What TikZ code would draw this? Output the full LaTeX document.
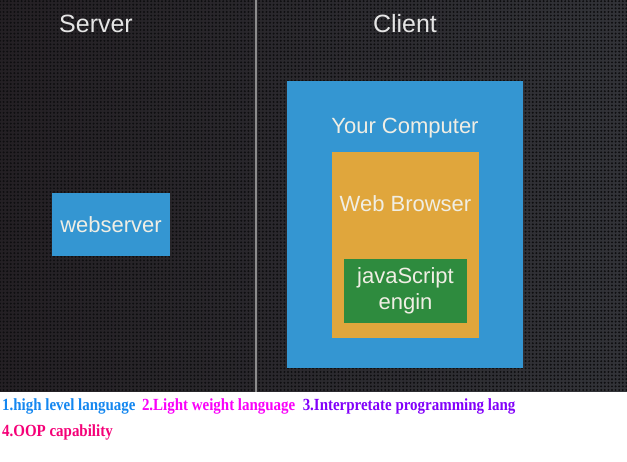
\documentclass[tikz,border=0pt]{standalone}
\usepackage{fontspec}
\setmainfont{Liberation Serif}
\setsansfont{Liberation Sans}
\newfontfamily\itemfont[FakeStretch=0.88]{Liberation Serif}
\usepackage{xcolor}
\usetikzlibrary{positioning, math, patterns.meta}
\definecolor{mydark}{RGB}{36,32,36}
\definecolor{mydarkb}{RGB}{50,51,56}
\definecolor{myhole}{RGB}{14,14,16}
\definecolor{myblue}{RGB}{52,150,210}
\definecolor{myorange}{RGB}{224,166,60}
\definecolor{mygreen}{RGB}{46,139,62}
\definecolor{mytext}{RGB}{240,238,228}
\definecolor{itemone}{RGB}{20,135,240}
\definecolor{itemtwo}{RGB}{250,0,250}
\definecolor{itemthree}{RGB}{130,0,250}
\definecolor{itemfour}{RGB}{245,0,120}

\tikzset{
box/.style={rectangle, inner sep=0, minimum width=#1},
boxtext/.style={font=\sffamily\fontsize{22}{26}\selectfont, text=mytext, align=center},
head/.style={font=\sffamily\fontsize{25}{30}\selectfont, text=black!10},
item/.style={font=\itemfont\bfseries\fontsize{17}{20}\selectfont, inner sep=0, anchor=base west},
}

\begin{document}
\begin{tikzpicture}[x=1pt,y=-1pt]
\tikzmath{
\W=627;
\H=462;
\D=392;
}
\useasboundingbox (0,0) rectangle (\W,\H);
\fill[white] (0,0) rectangle (\W,\H);
\shade[left color=mydark, right color=mydarkb] (0,0) rectangle (\W,\D);
\fill[pattern={Dots[radius=1.1pt, distance=3.6pt]}, pattern color=myhole] (0,0) rectangle (\W,\D);
\draw[line width=1.5, color=black!45] (256,0) -- (256,\D);

\node[head] (server) at (96,24) {Server};
\node[head] (client) at (405,24) {Client};

\node[box=118, minimum height=63, fill=myblue] (webserver) at (111,224.5) {};
\node[boxtext] at (webserver) {webserver};

\node[box=236, minimum height=287, fill=myblue] (computer) at (405,224.5) {};
\node[boxtext] (computertext) at (405,128) {Your Computer};
\node[box=147, minimum height=186, fill=myorange] (browser) at (405.5,245) {};
\node[boxtext] (browsertext) at (405.5,204) {Web Browser};
\node[box=123, minimum height=64, fill=mygreen] (engine) at (405.5,291) {};
\node[boxtext] at (engine) {javaScript\\engin};

\node[item, text=itemone] (one) at (2,410) {1.high level language};
\node[item, text=itemtwo, right=6 of one] (two) {2.Light weight language};
\node[item, text=itemthree, right=7 of two] (three) {3.Interpretate programming lang};
\node[item, text=itemfour] (four) at (2,437) {4.OOP capability};
\end{tikzpicture}
\end{document}
